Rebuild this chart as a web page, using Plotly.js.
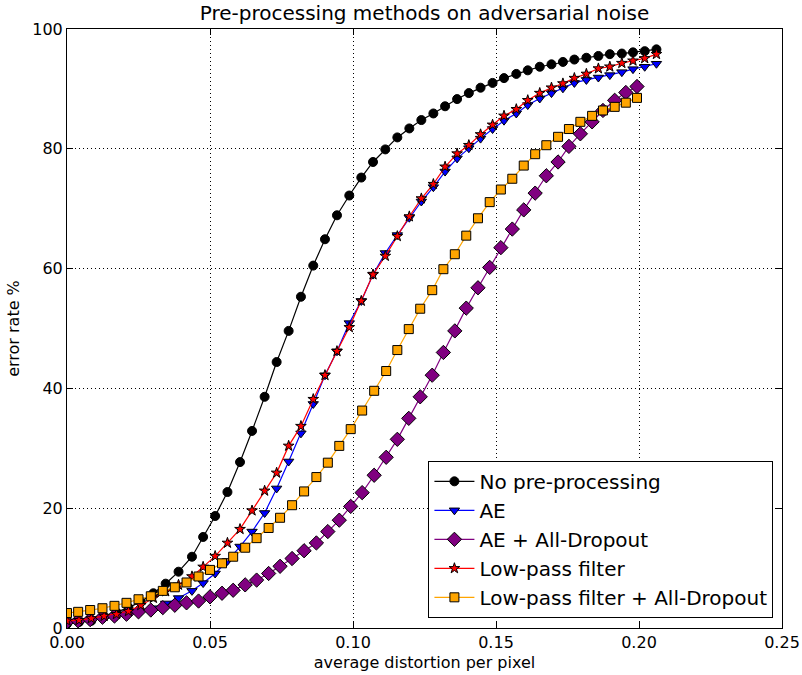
<!DOCTYPE html>
<html>
<head>
<meta charset="utf-8">
<script src="https://cdn.plot.ly/plotly-3.0.1.min.js"></script>
<style>html,body{margin:0;padding:0;background:#fff;}#chart{width:802px;height:675px;}</style>
</head>
<body>
<div id="chart"></div>
<script>
// distortion grid for series 1,2,4
const xA = [0, 0.0042, 0.0085, 0.0130, 0.0173, 0.0215, 0.0258, 0.0302, 0.0345, 0.0390,
  0.0437, 0.0476, 0.0518, 0.0561, 0.0605, 0.0647, 0.0691, 0.0733, 0.0775, 0.0818,
  0.0861, 0.0902, 0.0944, 0.0987, 0.1029, 0.1070, 0.1113, 0.1155, 0.1197, 0.1239,
  0.1281, 0.1322, 0.1364, 0.1405, 0.1446, 0.1488, 0.1528, 0.1571, 0.1611, 0.1653,
  0.1694, 0.1734, 0.1774, 0.1816, 0.1858, 0.1898, 0.1940, 0.1979, 0.2020, 0.2061];
// distortion grid for series 3,5
const xB = [0, 0.0039, 0.0081, 0.0124, 0.0166, 0.0208, 0.0250, 0.0293, 0.0335, 0.0377,
  0.0418, 0.0460, 0.0500, 0.0542, 0.0581, 0.0623, 0.0663, 0.0705, 0.0745, 0.0787,
  0.0829, 0.0872, 0.0912, 0.0952, 0.0992, 0.1032, 0.1074, 0.1116, 0.1155, 0.1195,
  0.1235, 0.1277, 0.1316, 0.1356, 0.1396, 0.1437, 0.1478, 0.1517, 0.1557, 0.1597,
  0.1637, 0.1676, 0.1717, 0.1755, 0.1795, 0.1836, 0.1874, 0.1915, 0.1954, 0.1993];

const noPre = [0.7, 1.0, 1.2, 1.9, 2.6, 3.4, 4.4, 5.8, 7.4, 9.4,
  11.9, 15.2, 18.7, 22.7, 27.7, 32.9, 38.6, 44.4, 49.6, 55.3,
  60.5, 64.9, 68.9, 72.2, 75.2, 77.8, 79.9, 81.9, 83.4, 84.8,
  85.9, 87.1, 88.3, 89.3, 90.2, 91.0, 91.8, 92.5, 93.1, 93.7,
  94.1, 94.5, 94.9, 95.2, 95.5, 95.8, 95.9, 96.1, 96.3, 96.6];
const ae = [1.0, 1.1, 1.3, 1.6, 1.9, 2.3, 2.8, 3.3, 4.1, 5.0,
  6.2, 7.5, 9.1, 11.2, 13.6, 16.1, 19.2, 23.3, 27.8, 32.5,
  37.4, 42.2, 46.2, 50.9, 54.6, 59.0, 62.6, 65.6, 68.5, 71.2,
  73.6, 76.2, 78.4, 80.1, 81.7, 83.3, 84.7, 85.9, 87.3, 88.4,
  89.3, 90.1, 91.0, 91.5, 91.9, 92.3, 92.8, 93.3, 93.7, 94.2];
const aeDrop = [1.0, 1.2, 1.4, 1.8, 2.0, 2.3, 2.7, 3.0, 3.4, 3.8,
  4.2, 4.5, 5.2, 5.8, 6.3, 7.2, 8.0, 9.1, 10.3, 11.6,
  12.9, 14.2, 16.1, 18.0, 20.3, 22.6, 25.5, 28.5, 31.5, 35.0,
  38.6, 42.2, 46.0, 49.6, 53.4, 56.8, 60.2, 63.5, 66.6, 69.8,
  72.6, 75.5, 77.8, 80.4, 82.5, 84.5, 86.4, 88.1, 89.4, 90.4];
const lowPass = [1.2, 1.3, 1.6, 2.0, 2.3, 2.8, 3.8, 5.0, 6.1, 7.2,
  8.6, 10.2, 12.0, 14.2, 16.5, 19.6, 22.9, 25.9, 30.4, 33.7,
  38.2, 42.2, 46.2, 50.2, 54.6, 59.0, 62.1, 65.4, 68.7, 71.7,
  74.1, 77.0, 79.2, 80.6, 82.4, 84.0, 85.5, 86.6, 88.1, 89.3,
  90.2, 90.9, 91.8, 92.5, 93.4, 93.7, 94.3, 94.7, 95.1, 95.8];
const lowPassDrop = [2.5, 2.7, 3.0, 3.3, 3.7, 4.2, 4.8, 5.3, 6.2, 6.8,
  7.6, 8.6, 9.7, 10.8, 11.9, 13.4, 15.0, 16.7, 18.4, 20.5,
  22.8, 25.2, 27.6, 30.4, 33.2, 36.3, 39.6, 42.9, 46.4, 49.9,
  53.3, 56.4, 59.9, 62.4, 65.5, 68.4, 71.1, 73.2, 75.0, 77.2,
  79.1, 80.6, 82.0, 83.3, 84.5, 85.5, 86.4, 87.0, 87.7, 88.5];

const names = ['No pre-processing', 'AE', 'AE + All-Dropout', 'Low-pass filter', 'Low-pass filter + All-Dropout'];

function tr(x, y, name, lineColor, fill, symbol, size) {
  return {
    x: x, y: y, name: name, type: 'scatter', mode: 'lines+markers',
    line: {color: lineColor, width: 1.2},
    marker: {symbol: symbol, size: size, color: fill, line: {color: '#000', width: 1}}
  };
}

const data = [
  tr(xA, noPre, names[0], '#000000', '#000000', 'circle', 9),
  tr(xA, ae, names[1], '#0000ff', '#0000ff', 'triangle-down', 9),
  tr(xB, aeDrop, names[2], '#800080', '#800080', 'diamond', 11),
  tr(xA, lowPass, names[3], '#ff0000', '#ff0000', 'star', 8),
  tr(xB, lowPassDrop, names[4], '#ffa500', '#ffa500', 'square', 9)
];

const font = 'DejaVu Sans, sans-serif';
const layout = {
  width: 802, height: 675,
  margin: {l: 67, r: 20, t: 29, b: 47, pad: 0},
  paper_bgcolor: '#fff', plot_bgcolor: '#fff',
  font: {family: font, size: 16, color: '#000'},
  title: {text: 'Pre-processing methods on adversarial noise', font: {family: font, size: 20, color: '#000'},
          x: 0.5, xref: 'paper', y: 1, yref: 'container', yanchor: 'top', pad: {t: 6}},
  xaxis: {
    range: [0, 0.25], dtick: 0.05, tick0: 0, tickformat: '.2f',
    showline: true, linecolor: '#000', linewidth: 1, mirror: 'ticks',
    ticks: 'inside', ticklen: 6, tickcolor: '#000',
    showgrid: true, gridcolor: '#000', griddash: '1px,3px', gridwidth: 1,
    zeroline: false,
    tickfont: {family: font, size: 16},
    title: {text: 'average distortion per pixel', font: {family: font, size: 16}, standoff: 5}
  },
  yaxis: {
    range: [0, 100], dtick: 20, tick0: 0,
    showline: true, linecolor: '#000', linewidth: 1, mirror: 'ticks',
    ticks: 'inside', ticklen: 6, tickcolor: '#000',
    showgrid: true, gridcolor: '#000', griddash: '1px,3px', gridwidth: 1,
    zeroline: false,
    tickfont: {family: font, size: 16},
    title: {text: 'error rate %', font: {family: font, size: 16}, standoff: 8}
  },
  legend: {
    x: 0.988, y: 0.017, xanchor: 'right', yanchor: 'bottom',
    bgcolor: '#fff', bordercolor: '#000', borderwidth: 1,
    font: {family: font, size: 20, color: '#000'},
    itemwidth: 40, tracegroupgap: 0
  },
  showlegend: true
};

Plotly.newPlot('chart', data, layout, {displayModeBar: false, staticPlot: true});
</script>
</body>
</html>
